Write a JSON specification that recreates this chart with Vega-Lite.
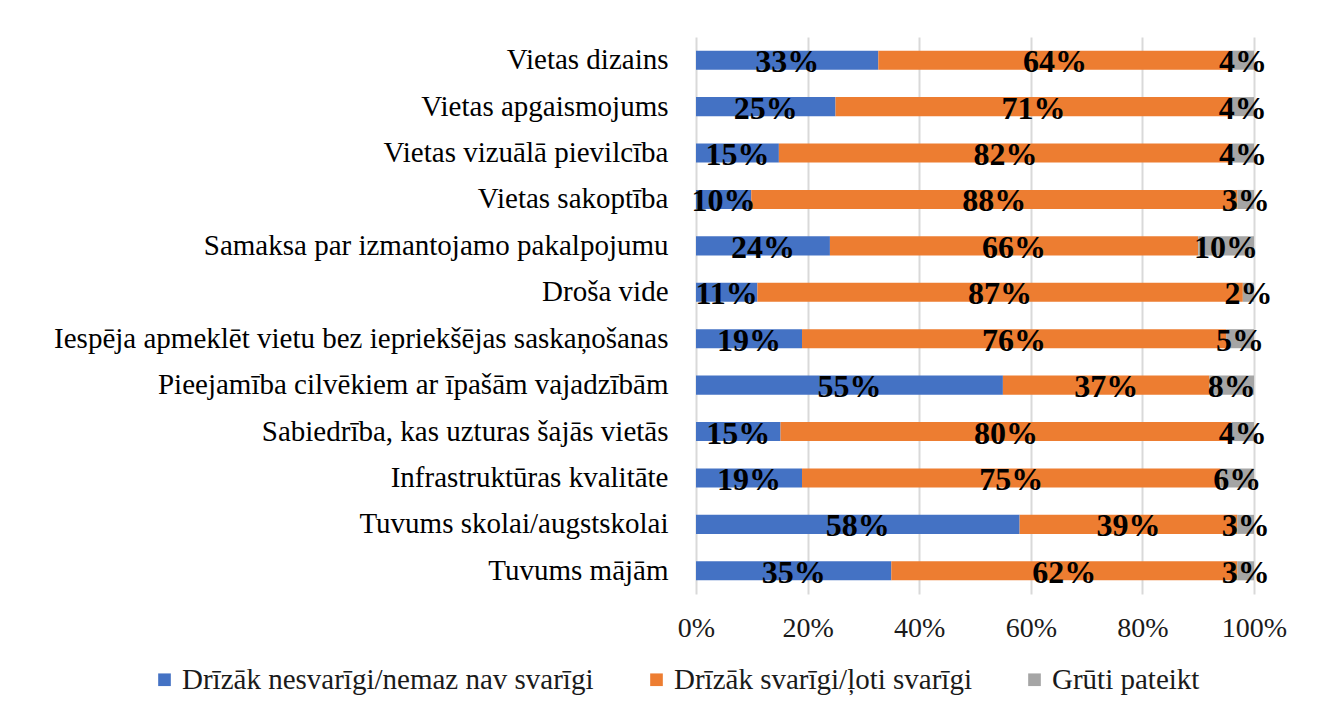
{
  "$schema": "https://vega.github.io/schema/vega-lite/v6.json",
  "width": 558,
  "height": 557,
  "autosize": {"type": "none"},
  "padding": {"left": 696, "top": 37, "right": 71, "bottom": 124},
  "background": "white",
  "config": {"view": {"stroke": null}},
  "data": {"values": [
    {"cat": "Vietas dizains", "grp": "Drīzāk nesvarīgi/nemaz nav svarīgi", "o": 1, "v": 0.33},
    {"cat": "Vietas dizains", "grp": "Drīzāk svarīgi/ļoti svarīgi", "o": 2, "v": 0.64},
    {"cat": "Vietas dizains", "grp": "Grūti pateikt", "o": 3, "v": 0.04},
    {"cat": "Vietas apgaismojums", "grp": "Drīzāk nesvarīgi/nemaz nav svarīgi", "o": 1, "v": 0.25},
    {"cat": "Vietas apgaismojums", "grp": "Drīzāk svarīgi/ļoti svarīgi", "o": 2, "v": 0.71},
    {"cat": "Vietas apgaismojums", "grp": "Grūti pateikt", "o": 3, "v": 0.04},
    {"cat": "Vietas vizuālā pievilcība", "grp": "Drīzāk nesvarīgi/nemaz nav svarīgi", "o": 1, "v": 0.15},
    {"cat": "Vietas vizuālā pievilcība", "grp": "Drīzāk svarīgi/ļoti svarīgi", "o": 2, "v": 0.82},
    {"cat": "Vietas vizuālā pievilcība", "grp": "Grūti pateikt", "o": 3, "v": 0.04},
    {"cat": "Vietas sakoptība", "grp": "Drīzāk nesvarīgi/nemaz nav svarīgi", "o": 1, "v": 0.10},
    {"cat": "Vietas sakoptība", "grp": "Drīzāk svarīgi/ļoti svarīgi", "o": 2, "v": 0.88},
    {"cat": "Vietas sakoptība", "grp": "Grūti pateikt", "o": 3, "v": 0.03},
    {"cat": "Samaksa par izmantojamo pakalpojumu", "grp": "Drīzāk nesvarīgi/nemaz nav svarīgi", "o": 1, "v": 0.24},
    {"cat": "Samaksa par izmantojamo pakalpojumu", "grp": "Drīzāk svarīgi/ļoti svarīgi", "o": 2, "v": 0.66},
    {"cat": "Samaksa par izmantojamo pakalpojumu", "grp": "Grūti pateikt", "o": 3, "v": 0.10},
    {"cat": "Droša vide", "grp": "Drīzāk nesvarīgi/nemaz nav svarīgi", "o": 1, "v": 0.11},
    {"cat": "Droša vide", "grp": "Drīzāk svarīgi/ļoti svarīgi", "o": 2, "v": 0.87},
    {"cat": "Droša vide", "grp": "Grūti pateikt", "o": 3, "v": 0.02},
    {"cat": "Iespēja apmeklēt vietu bez iepriekšējas saskaņošanas", "grp": "Drīzāk nesvarīgi/nemaz nav svarīgi", "o": 1, "v": 0.19},
    {"cat": "Iespēja apmeklēt vietu bez iepriekšējas saskaņošanas", "grp": "Drīzāk svarīgi/ļoti svarīgi", "o": 2, "v": 0.76},
    {"cat": "Iespēja apmeklēt vietu bez iepriekšējas saskaņošanas", "grp": "Grūti pateikt", "o": 3, "v": 0.05},
    {"cat": "Pieejamība cilvēkiem ar īpašām vajadzībām", "grp": "Drīzāk nesvarīgi/nemaz nav svarīgi", "o": 1, "v": 0.55},
    {"cat": "Pieejamība cilvēkiem ar īpašām vajadzībām", "grp": "Drīzāk svarīgi/ļoti svarīgi", "o": 2, "v": 0.37},
    {"cat": "Pieejamība cilvēkiem ar īpašām vajadzībām", "grp": "Grūti pateikt", "o": 3, "v": 0.08},
    {"cat": "Sabiedrība, kas uzturas šajās vietās", "grp": "Drīzāk nesvarīgi/nemaz nav svarīgi", "o": 1, "v": 0.15},
    {"cat": "Sabiedrība, kas uzturas šajās vietās", "grp": "Drīzāk svarīgi/ļoti svarīgi", "o": 2, "v": 0.80},
    {"cat": "Sabiedrība, kas uzturas šajās vietās", "grp": "Grūti pateikt", "o": 3, "v": 0.04},
    {"cat": "Infrastruktūras kvalitāte", "grp": "Drīzāk nesvarīgi/nemaz nav svarīgi", "o": 1, "v": 0.19},
    {"cat": "Infrastruktūras kvalitāte", "grp": "Drīzāk svarīgi/ļoti svarīgi", "o": 2, "v": 0.75},
    {"cat": "Infrastruktūras kvalitāte", "grp": "Grūti pateikt", "o": 3, "v": 0.06},
    {"cat": "Tuvums skolai/augstskolai", "grp": "Drīzāk nesvarīgi/nemaz nav svarīgi", "o": 1, "v": 0.58},
    {"cat": "Tuvums skolai/augstskolai", "grp": "Drīzāk svarīgi/ļoti svarīgi", "o": 2, "v": 0.39},
    {"cat": "Tuvums skolai/augstskolai", "grp": "Grūti pateikt", "o": 3, "v": 0.03},
    {"cat": "Tuvums mājām", "grp": "Drīzāk nesvarīgi/nemaz nav svarīgi", "o": 1, "v": 0.35},
    {"cat": "Tuvums mājām", "grp": "Drīzāk svarīgi/ļoti svarīgi", "o": 2, "v": 0.62},
    {"cat": "Tuvums mājām", "grp": "Grūti pateikt", "o": 3, "v": 0.03}
  ]},
  "transform": [
    {"stack": "v", "groupby": ["cat"], "sort": [{"field": "o"}], "offset": "normalize", "as": ["v0", "v1"]},
    {"calculate": "(datum.v0 + datum.v1) / 2", "as": "mid"}
  ],
  "encoding": {
    "y": {
      "field": "cat", "type": "nominal", "sort": null,
      "scale": {"paddingInner": 0.59, "paddingOuter": 0.295},
      "axis": {
        "title": null, "ticks": false, "domain": false, "labelPadding": 28,
        "labelFont": "Liberation Serif", "labelFontSize": 29, "labelColor": "#000000",
        "labelLimit": 700
      }
    }
  },
  "layer": [
    {
      "mark": {"type": "bar"},
      "encoding": {
        "x": {
          "field": "v0", "type": "quantitative",
          "scale": {"domain": [0, 1]},
          "axis": {
            "title": null, "format": ".0%", "values": [0, 0.2, 0.4, 0.6, 0.8, 1],
            "domain": false, "ticks": false, "grid": true, "gridColor": "#d9d9d9", "gridWidth": 2,
            "labelFont": "Liberation Serif", "labelFontSize": 28, "labelColor": "#1a1a1a",
            "labelPadding": 20, "labelFlush": false
          }
        },
        "x2": {"field": "v1"},
        "color": {
          "field": "grp", "type": "nominal",
          "scale": {
            "domain": ["Drīzāk nesvarīgi/nemaz nav svarīgi", "Drīzāk svarīgi/ļoti svarīgi", "Grūti pateikt"],
            "range": ["#4472C4", "#ED7D31", "#A5A5A5"]
          },
          "legend": {
            "title": null, "orient": "none", "direction": "horizontal",
            "legendX": -546, "legendY": 628,
            "symbolType": "square", "symbolSize": 160, "symbolStrokeWidth": 0,
            "labelFont": "Liberation Serif", "labelFontSize": 29, "labelColor": "#1a1a1a",
            "labelOffset": 3, "columnPadding": 48, "labelLimit": 700
          }
        }
      }
    },
    {
      "mark": {"type": "text", "font": "Liberation Serif", "fontWeight": "bold", "fontSize": 32, "color": "#000000", "baseline": "middle", "dy": 2},
      "encoding": {
        "x": {"field": "mid", "type": "quantitative"},
        "text": {"field": "v", "type": "quantitative", "format": ".0%"}
      }
    }
  ]
}
